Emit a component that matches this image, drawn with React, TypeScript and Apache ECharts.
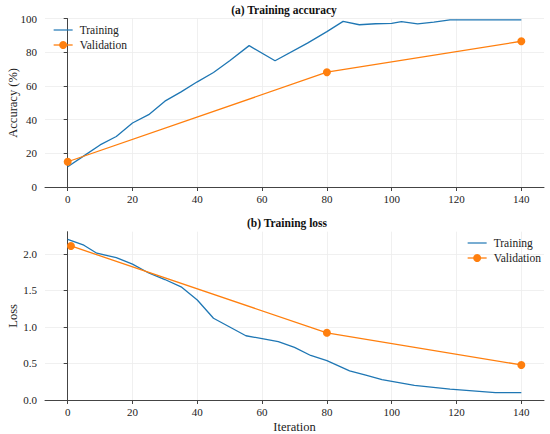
import React, { useEffect, useRef } from "react";
import * as echarts from "echarts";

// ---- Data ----
const xTicks = [0, 20, 40, 60, 80, 100, 120, 140];
const accTicks = [0, 20, 40, 60, 80, 100];
const lossTicks = [0, 0.5, 1.0, 1.5, 2.0];

const trainAccIter = [0, 5, 10, 15, 20, 25, 30, 35, 40, 45, 50, 56, 64, 74, 80, 85, 90, 95, 100, 103, 108, 113, 118, 140];
const trainAccValues = [12, 18.5, 25, 30, 38, 43, 51, 56.5, 62.5, 68, 75, 84, 75, 85.5, 92.3, 98.4, 96.4, 97, 97.2, 98.3, 96.9, 98, 99.3, 99.3];

const valAccIter = [0, 80, 140];
const valAccValues = [15, 68.2, 86.6];

const trainLossIter = [0, 5, 9, 15, 20, 25, 30, 35, 40, 45, 50, 55, 60, 65, 70, 75, 80, 87, 92, 97, 107, 118, 132, 140];
const trainLossValues = [2.2, 2.12, 2.01, 1.95, 1.86, 1.74, 1.65, 1.55, 1.37, 1.12, 1.0, 0.88, 0.84, 0.8, 0.72, 0.61, 0.54, 0.4, 0.34, 0.28, 0.2, 0.15, 0.1, 0.1];

const valLossIter = [1, 80, 140];
const valLossValues = [2.11, 0.92, 0.48];

const BLUE = "#1f77b4";
const ORANGE = "#ff7f0e";
const FONT = "'Liberation Serif', 'Times New Roman', serif";
const AXIS_COLOR = "#444";
const TEXT_COLOR = "#222";
const GRID_COLOR = "#ececec";

// plain line legend icon (bounding box padded by the two move-to points)
const LINE_ICON = "path://M0,0 M0,4.4 L19,4.4 L19,5.6 L0,5.6 Z M19,10";

const zip = (xs: number[], ys: number[]) => xs.map((x, i) => [x, ys[i]]);

function xAxisCfg(gridIndex: number, name?: string) {
  return {
    type: "value",
    gridIndex,
    min: -7,
    max: 147,
    name: name || "",
    nameLocation: "middle",
    nameGap: 20,
    nameMoveOverlap: false,
    nameTextStyle: { fontFamily: FONT, fontSize: 12.5, color: TEXT_COLOR },
    axisLine: { show: true, lineStyle: { color: AXIS_COLOR, width: 1 } },
    axisTick: { show: true, length: 4, lineStyle: { color: AXIS_COLOR }, customValues: xTicks },
    axisLabel: {
      customValues: xTicks,
      margin: 6,
      fontFamily: FONT,
      fontSize: 11,
      color: TEXT_COLOR,
    },
    splitLine: { show: true, lineStyle: { color: GRID_COLOR, width: 0.8 } },
  };
}

function yAxisCfg(gridIndex: number, name: string, max: number, ticks: number[], fmt: (v: number) => string) {
  return {
    type: "value",
    gridIndex,
    min: 0,
    max,
    name,
    nameLocation: "middle",
    nameGap: 26,
    nameMoveOverlap: false,
    nameTextStyle: { fontFamily: FONT, fontSize: 12.5, color: TEXT_COLOR },
    axisLine: { show: true, lineStyle: { color: AXIS_COLOR, width: 1 } },
    axisTick: { show: true, length: 4, lineStyle: { color: AXIS_COLOR }, customValues: ticks },
    axisLabel: {
      customValues: ticks,
      margin: 8,
      fontFamily: FONT,
      fontSize: 11,
      color: TEXT_COLOR,
      formatter: (v: number) => fmt(v),
    },
    splitLine: { show: true, lineStyle: { color: GRID_COLOR, width: 0.8 } },
  };
}

export default function App() {
  const ref = useRef<HTMLDivElement>(null);

  useEffect(() => {
    if (!ref.current) return;
    const chart = echarts.init(ref.current, undefined, { renderer: "svg" });

    const legendCommon = {
      orient: "vertical",
      padding: 0,
      itemWidth: 19,
      itemHeight: 10,
      itemGap: 3,
      textStyle: { fontFamily: FONT, fontSize: 11.5, color: TEXT_COLOR, padding: [0, 0, 0, 2] },
      data: [
        { name: "Training", icon: LINE_ICON, itemStyle: { color: BLUE } },
        { name: "Validation", lineStyle: { width: 1.3 } },
      ],
      selectedMode: false,
    };

    chart.setOption({
      animation: false,
      backgroundColor: "#fff",
      textStyle: { fontFamily: FONT },
      grid: [
        { left: 45, top: 18.7, width: 499, height: 168.3, containLabel: false, outerBoundsMode: "none" },
        { left: 45, top: 231.7, width: 499, height: 168.3, containLabel: false, outerBoundsMode: "none" },
      ],
      xAxis: [xAxisCfg(0), xAxisCfg(1, "Iteration")],
      yAxis: [
        yAxisCfg(0, "Accuracy (%)", 100, accTicks, (v) => String(Math.round(v))),
        yAxisCfg(1, "Loss", 2.305, lossTicks, (v) => v.toFixed(1)),
      ],
      legend: [
        { ...legendCommon, left: 53, top: 24 },
        { ...legendCommon, left: 467, top: 237 },
      ],
      graphic: [
        {
          type: "text",
          x: 284,
          y: 10,
          style: {
            text: "(a) Training accuracy",
            font: `bold 11.5px ${FONT}`,
            fill: "#111",
            align: "center",
            verticalAlign: "middle",
          },
        },
        {
          type: "text",
          x: 287,
          y: 223,
          style: {
            text: "(b) Training loss",
            font: `bold 11.5px ${FONT}`,
            fill: "#111",
            align: "center",
            verticalAlign: "middle",
          },
        },
      ],
      series: [
        {
          name: "Training",
          type: "line",
          xAxisIndex: 0,
          yAxisIndex: 0,
          data: zip(trainAccIter, trainAccValues),
          symbol: "none",
          lineStyle: { color: BLUE, width: 1.3 },
          itemStyle: { color: BLUE },
        },
        {
          name: "Validation",
          type: "line",
          xAxisIndex: 0,
          yAxisIndex: 0,
          data: zip(valAccIter, valAccValues),
          symbol: "circle",
          symbolSize: 8,
          lineStyle: { color: ORANGE, width: 1.3 },
          itemStyle: { color: ORANGE },
        },
        {
          name: "Training",
          type: "line",
          xAxisIndex: 1,
          yAxisIndex: 1,
          data: zip(trainLossIter, trainLossValues),
          symbol: "none",
          lineStyle: { color: BLUE, width: 1.3 },
          itemStyle: { color: BLUE },
        },
        {
          name: "Validation",
          type: "line",
          xAxisIndex: 1,
          yAxisIndex: 1,
          data: zip(valLossIter, valLossValues),
          symbol: "circle",
          symbolSize: 8,
          lineStyle: { color: ORANGE, width: 1.3 },
          itemStyle: { color: ORANGE },
        },
      ],
    });

    return () => chart.dispose();
  }, []);

  return (
    <div
      ref={ref}
      style={{ position: "fixed", left: 0, top: 0, width: 550, height: 434, background: "#fff" }}
    />
  );
}
